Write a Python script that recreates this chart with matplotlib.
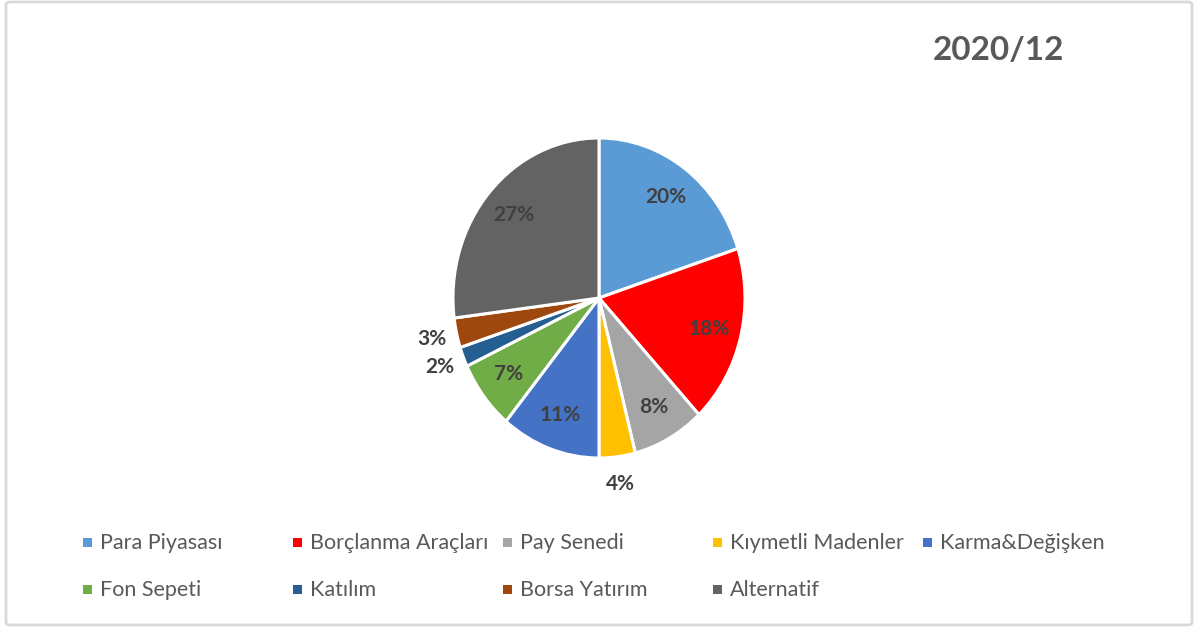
import matplotlib
matplotlib.use("Agg")
import matplotlib.pyplot as plt
import numpy as np
from matplotlib.patches import FancyBboxPatch, Rectangle

categories = ["Para Piyasası", "Borçlanma Araçları", "Pay Senedi", "Kıymetli Madenler",
              "Karma&Değişken", "Fon Sepeti", "Katılım", "Borsa Yatırım", "Alternatif"]
values = [20, 18, 8, 4, 11, 7, 2, 3, 27]
colors = ["#5B9BD5", "#FF0000", "#A5A5A5", "#FFC000", "#4472C4",
          "#70AD47", "#255E91", "#9E480E", "#636363"]
title = "2020/12"

W, H = 1197, 628
fig = plt.figure(figsize=(W / 100, H / 100), dpi=100)
fig.patch.set_facecolor("white")

# chart border
border = FancyBboxPatch((6 / W, 3 / H), (1192 - 6) / W, (626 - 3) / H,
                        boxstyle="round,pad=0,rounding_size=0.004",
                        transform=fig.transFigure, fill=False,
                        edgecolor="#D9D9D9", linewidth=2)
fig.add_artist(border)

cx, cy, rx, ry = 599, 298, 146, 160
ax = fig.add_axes([(cx - rx) / W, (H - cy - ry) / H, 2 * rx / W, 2 * ry / H])
wedges, _ = ax.pie(values, colors=colors, startangle=90, counterclock=False,
                   wedgeprops=dict(edgecolor="white", linewidth=2.2))
ax.set_aspect("auto")
ax.set_xlim(-1, 1)
ax.set_ylim(-1, 1)
ax.axis("off")

label_font = ["Lato", "DejaVu Sans"]
for w, v in zip(wedges, values):
    ang = np.deg2rad((w.theta1 + w.theta2) / 2)
    d = 0.78 if v >= 5 else 1.17
    ax.text(d * np.cos(ang), d * np.sin(ang), f"{v}%", ha="center", va="center",
            fontsize=15, fontweight="bold", color="#404040", family=label_font,
            clip_on=False)

fig.text(998 / W, 1 - 50 / H, title, ha="center", va="center", fontsize=24,
         fontweight="bold", color="#595959", family=label_font)

# legend
col_x = [87, 297, 507, 717, 927]
row_y = [543, 590]
for i, (lab, col) in enumerate(zip(categories, colors)):
    r, c = divmod(i, 5)
    x, y = col_x[c], row_y[r]
    fig.add_artist(Rectangle(((x - 4) / W, 1 - (y + 4) / H), 9 / W, 9 / H,
                             transform=fig.transFigure, facecolor=col, edgecolor="none"))
    fig.text((x + 13) / W, 1 - y / H, lab, ha="left", va="center", fontsize=15.5,
             color="#595959", family=label_font)

fig.savefig("out.png", dpi=100, facecolor="white")
